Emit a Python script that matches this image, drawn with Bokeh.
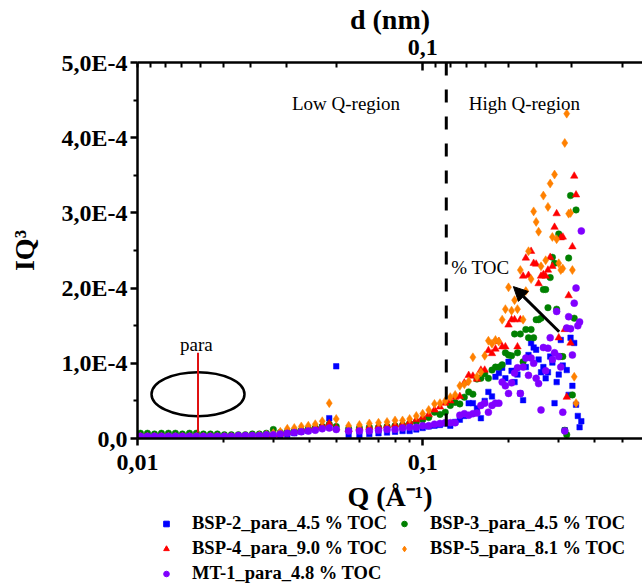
from bokeh.plotting import figure
from bokeh.layouts import column
from bokeh.models import (LogAxis, FixedTicker, CustomJSTickFormatter, Label, Arrow,
                          NormalHead, Span, Legend, LegendItem, Range1d)
from bokeh.embed import file_html
from bokeh.resources import INLINE

# ---------------- data (IQ^3 values in units of 1E-4) ----------------
SCALE = 1e-4

Q_LOW = [0.01024, 0.01084, 0.01147, 0.01213, 0.01284, 0.01358, 0.01437, 0.01521, 0.01609, 0.01703,
         0.01802, 0.01906, 0.02017, 0.02134, 0.02258, 0.02389, 0.02528, 0.02675, 0.02830, 0.02994,
         0.03168, 0.03352, 0.03547, 0.03753, 0.03971, 0.04201, 0.04445, 0.04703, 0.04976]

Q_HIGH = [0.055, 0.060, 0.065, 0.070, 0.075, 0.080, 0.085, 0.090, 0.095, 0.100,
          0.105, 0.110, 0.115, 0.120, 0.125, 0.130, 0.135, 0.140, 0.145, 0.150,
          0.155, 0.160, 0.165, 0.170, 0.175, 0.180, 0.185, 0.190, 0.195, 0.200,
          0.205, 0.210, 0.215, 0.220, 0.225, 0.230, 0.235, 0.240, 0.245, 0.250,
          0.255, 0.260, 0.265, 0.270, 0.275, 0.280, 0.285, 0.290, 0.295, 0.300,
          0.305, 0.310, 0.315, 0.320, 0.325, 0.330, 0.335, 0.340, 0.345, 0.350,
          0.355, 0.360]

BSP2_LOW = [0.01, 0.01, 0.01, 0.01, 0.01, 0.01, 0.01, 0.01, 0.01, 0.01,
            0.01, 0.01, 0.01, 0.01, 0.01, 0.01, 0.01, 0.01, 0.02, 0.03,
            0.04, 0.05, 0.07, 0.09, 0.10, 0.12, 0.15, 0.27, 0.96]
BSP2_HIGH = [0.05, 0.04, 0.06, 0.07, 0.08, 0.09, 0.10, 0.10, 0.12, 0.14,
             0.16, 0.17, 0.18, 0.20, 0.17, 0.22, 0.25, 0.30, 0.47, 0.47,
             0.40, 0.27, 0.50, 0.62, 0.56, 0.82, 0.87, 0.94, 0.80, 1.02,
             0.90, 0.75, 0.85, 0.60, 0.51, 0.95, 1.11, 1.27, 1.21, 1.18,
             1.05, 0.88, 0.95, 0.80, 0.88, 1.09, 1.01, 0.47, 0.75, 0.85,
             1.31, 0.97, 0.11, 0.91, 0.58, 1.34, 0.70, 1.27, 0.45, 0.30,
             0.15, 0.23]

BSP3_LOW = [0.07, 0.07, 0.06, 0.07, 0.07, 0.07, 0.06, 0.07, 0.07, 0.06,
            0.06, 0.06, 0.05, 0.05, 0.05, 0.05, 0.06, 0.06, 0.07, 0.12,
            0.08, 0.09, 0.10, 0.11, 0.13, 0.14, 0.16, 0.19, 0.16]
BSP3_HIGH = [0.13, 0.14, 0.15, 0.15, 0.16, 0.17, 0.18, 0.20, 0.22, 0.25,
             0.28, 0.35, 0.32, 0.35, 0.44, 0.48, 0.46, 0.55, 0.62, 0.59,
             0.79, 0.80, 0.86, 0.80, 0.91, 0.95, 0.95, 0.98, 1.14, 1.11,
             1.10, 1.39, 1.14, 1.39, 1.02, 1.45, 1.34, 1.45, 1.34, 1.58,
             1.58, 1.60, 1.98, 1.98, 1.74, 2.14, 2.41, 2.33, 1.72, 2.72,
             1.09, 1.09, 0.11, 0.05, 2.40, 3.23, 0.58, 1.60, 3.04]

BSP4_LOW = [0.02, 0.02, 0.02, 0.02, 0.02, 0.02, 0.02, 0.02, 0.02, 0.02,
            0.02, 0.02, 0.02, 0.02, 0.02, 0.02, 0.02, 0.03, 0.04, 0.05,
            0.06, 0.08, 0.10, 0.12, 0.13, 0.15, 0.17, 0.20, 0.14]
BSP4_HIGH = [0.12, 0.14, 0.15, 0.16, 0.17, 0.18, 0.19, 0.22, 0.25, 0.28,
             0.32, 0.38, 0.42, 0.47, 0.50, 0.55, 0.56, 0.74, 0.84, 0.83,
             0.79, 0.91, 0.91, 1.17, 1.13, 1.19, 1.29, 1.22, 1.22, 1.51,
             1.58, 1.58, 1.22, 1.58, 2.16, 2.40, 2.17, 2.49, 2.33, 2.32,
             2.06, 2.16, 2.18, 2.16, 2.24, 2.41, 2.29, 2.81, 2.99, 1.34,
             2.67, 2.68, 1.45, 0.55, 1.90, 1.27, 2.55, 3.49, 3.24]

BSP5_LOW = [0.02, 0.02, 0.02, 0.02, 0.02, 0.02, 0.02, 0.02, 0.02, 0.02,
            0.02, 0.02, 0.02, 0.02, 0.02, 0.03, 0.03, 0.04, 0.05, 0.07,
            0.09, 0.13, 0.14, 0.16, 0.17, 0.19, 0.23, 0.47, 0.26]
BSP5_HIGH = [0.17, 0.18, 0.20, 0.21, 0.22, 0.24, 0.24, 0.26, 0.30, 0.33,
             0.38, 0.46, 0.47, 0.50, 0.55, 0.58, 0.70, 0.72, 0.76, 1.08,
             0.82, 0.88, 1.10, 1.30, 1.26, 1.31, 1.29, 1.58, 1.72, 2.01,
             1.70, 1.84, 1.72, 2.24, 1.58, 1.96, 2.49, 2.12, 3.02, 2.88,
             2.75, 2.29, 3.23, 2.37, 3.08, 3.39, 2.68, 3.51, 2.65, 2.33,
             2.24, 2.26, 3.93, 4.32, 2.99, 3.00, 2.24, 0.82, 0.47]

MT1_LOW = [0.03, 0.03, 0.03, 0.03, 0.03, 0.03, 0.03, 0.03, 0.03, 0.03,
           0.03, 0.03, 0.03, 0.03, 0.04, 0.04, 0.04, 0.04, 0.05, 0.05,
           0.06, 0.07, 0.08, 0.09, 0.10, 0.11, 0.13, 0.14, 0.12]
MT1_HIGH = [0.10, 0.10, 0.10, 0.11, 0.12, 0.12, 0.14, 0.15, 0.15, 0.17,
            0.17, 0.19, 0.20, 0.21, 0.21, 0.21, 0.31, 0.33, 0.31, 0.33,
            0.34, 0.44, 0.47, 0.35, 0.44, 0.47, 0.47, 0.75, 0.70, 0.60,
            0.74, 0.87, 0.94, 0.60, 0.95, 1.07, 0.84, 1.07, 1.00, 0.80,
            0.73, 0.38, 1.21, 0.90, 1.20, 1.34, 1.05, 1.14, 1.69, 1.09,
            0.95, 0.35, 0.10, 1.47, 1.62, 1.46, 1.11, 1.80, 2.00, 1.50,
            1.55, 2.76]

LABELS = ["BSP-2_para_4.5 % TOC", "BSP-3_para_4.5 % TOC", "BSP-4_para_9.0 % TOC",
          "BSP-5_para_8.1 % TOC", "MT-1_para_4.8 % TOC"]
LOWS = [BSP2_LOW, BSP3_LOW, BSP4_LOW, BSP5_LOW, MT1_LOW]
HIGHS = [BSP2_HIGH, BSP3_HIGH, BSP4_HIGH, BSP5_HIGH, MT1_HIGH]
MARKERS = ["square", "circle", "triangle", "diamond", "circle"]
COLORS = ["#0000ff", "#008000", "#ff0000", "#ff8000", "#8000ff"]
SIZES = [5.5, 6.5, 7.5, 9, 7]

X_MAJOR = [0.01, 0.1]
X_MINOR = [0.02, 0.03, 0.04, 0.05, 0.06, 0.07, 0.08, 0.09, 0.2, 0.3, 0.4, 0.5]
Y_MAJOR = [0.0, 1e-4, 2e-4, 3e-4, 4e-4, 5e-4]
Y_MINOR = [0.5e-4, 1.5e-4, 2.5e-4, 3.5e-4, 4.5e-4]
D_MAJOR = [0.1]
D_MINOR = [1.0, 0.9, 0.8, 0.7, 0.6, 0.5, 0.4, 0.3, 0.2,
           0.09, 0.08, 0.07, 0.06, 0.05, 0.04, 0.03, 0.02]
D_FACTOR = 0.01   # d = D_FACTOR / Q as on the top axis

# ---------------- figure ----------------
FONT = "Liberation Serif"
LEFT = 137

p = figure(width=642, height=514, x_axis_type="log",
           x_range=Range1d(0.01, 0.59), y_range=Range1d(0, 5e-4),
           output_backend="svg", toolbar_location=None,
           min_border_left=LEFT, min_border_right=0, min_border_top=57, min_border_bottom=0)
p.outline_line_color = None
p.xgrid.visible = False
p.ygrid.visible = False
p.background_fill_color = "white"
p.border_fill_color = "white"


def style_axis(ax, tick_in, tick_out, minor_in, minor_out):
    ax.axis_line_width = 2.5
    ax.axis_line_color = "black"
    ax.major_tick_line_width = 2.5
    ax.minor_tick_line_width = 2
    ax.major_tick_in = tick_in
    ax.major_tick_out = tick_out
    ax.minor_tick_in = minor_in
    ax.minor_tick_out = minor_out
    ax.major_label_text_font = FONT
    ax.major_label_text_font_style = "bold"
    ax.major_label_text_font_size = "24px"
    ax.major_label_text_color = "black"
    ax.axis_label_text_font = FONT
    ax.axis_label_text_font_style = "bold"
    ax.axis_label_text_font_size = "28px"
    ax.axis_label_text_color = "black"


xax = p.xaxis[0]
xax.ticker = FixedTicker(ticks=X_MAJOR, minor_ticks=X_MINOR)
xax.formatter = CustomJSTickFormatter(code="return String(tick).replace('.', ',');")
xax.axis_label = "Q (Å⁻¹)"
style_axis(xax, 0, 7, 0, 4)
xax.major_label_standoff = 9
xax.axis_label_standoff = 8

yax = p.yaxis[0]
yax.ticker = FixedTicker(ticks=Y_MAJOR, minor_ticks=Y_MINOR)
yax.formatter = CustomJSTickFormatter(code="""
if (Math.abs(tick) < 1e-12) { return "0,0"; }
const e = Math.floor(Math.log10(Math.abs(tick)) + 1e-9);
const m = tick / Math.pow(10, e);
return m.toFixed(1).replace('.', ',') + "E" + e;
""")
yax.axis_label = "IQ³"
style_axis(yax, 0, 7, 0, 4)
yax.major_label_standoff = 3
yax.axis_label_standoff = 19

top = LogAxis(ticker=FixedTicker(ticks=[D_FACTOR / d for d in D_MAJOR],
                                 minor_ticks=[D_FACTOR / d for d in D_MINOR]),
              formatter=CustomJSTickFormatter(
                  code="const d = %g / tick; return String(Math.round(d * 1000) / 1000).replace('.', ',');" % D_FACTOR),
              axis_label="d (nm)")
style_axis(top, 8, 0, 5, 0)
top.major_label_standoff = 8
top.axis_label_standoff = 2
p.add_layout(top, "above")

# ---------------- data marks ----------------
for lab, lo, hi, mk, col, sz in zip(LABELS, LOWS, HIGHS, MARKERS, COLORS, SIZES):
    xs = Q_LOW + Q_HIGH[:len(hi)]
    ys = [v * SCALE for v in lo + hi]
    p.scatter(xs, ys, marker=mk, size=sz, fill_color=col, line_color=col, line_width=0.5)

# ---------------- annotations ----------------
p.add_layout(Span(location=0.121, dimension="height", line_color="black",
                  line_width=3, line_dash="13 14"))

for txt, x, y in [("Low Q-region", 0.0348, 4.46e-4), ("High Q-region", 0.145, 4.46e-4),
                  ("% TOC", 0.126, 2.28e-4), ("para", 0.0141, 1.25e-4)]:
    p.add_layout(Label(x=x, y=y, text=txt, text_font=FONT, text_font_size="19px",
                       text_baseline="middle", text_align="left", text_color="black"))

p.add_layout(Arrow(end=None, x_start=0.0163, y_start=0.08e-4, x_end=0.0163, y_end=1.14e-4,
                   line_color="#e01010", line_width=2))
p.ellipse(x=[0.0163], y=[0.59e-4], width=93, height=44, width_units="screen",
          height_units="screen", fill_color=None, line_color="black", line_width=2.5)
p.add_layout(Arrow(end=NormalHead(size=14, fill_color="black", line_color="black"),
                   x_start=0.301, y_start=1.42e-4, x_end=0.208, y_end=2.02e-4,
                   line_color="black", line_width=3))

# ---------------- legend (separate strip below the plot) ----------------
lg = figure(width=642, height=70, x_range=Range1d(0, 1), y_range=Range1d(0, 1),
            x_axis_location=None, y_axis_location=None,
            output_backend="svg", toolbar_location=None,
            min_border_left=LEFT, min_border_right=0, min_border_top=0, min_border_bottom=0)
lg.grid.visible = False
lg.outline_line_color = None
lg.background_fill_color = "white"
lg.border_fill_color = "white"

items = []
for lab, mk, col, sz in zip(LABELS, MARKERS, COLORS, SIZES):
    r = lg.scatter(x=[-10], y=[-10], marker=mk, size=sz, fill_color=col, line_color=col)
    items.append(LegendItem(label=lab, renderers=[r]))

legend = Legend(items=items, orientation="horizontal", ncols=2, location=(22, 0),
                label_text_font=FONT, label_text_font_style="bold", label_text_color="black",
                label_text_font_size="18.5px", glyph_width=14, glyph_height=19,
                label_height=19, label_width=201, label_standoff=19, spacing=4,
                padding=2, margin=0, border_line_color=None, background_fill_alpha=0)
lg.add_layout(legend, "center")

open("out.html", "w").write(file_html(column(p, lg), INLINE))
